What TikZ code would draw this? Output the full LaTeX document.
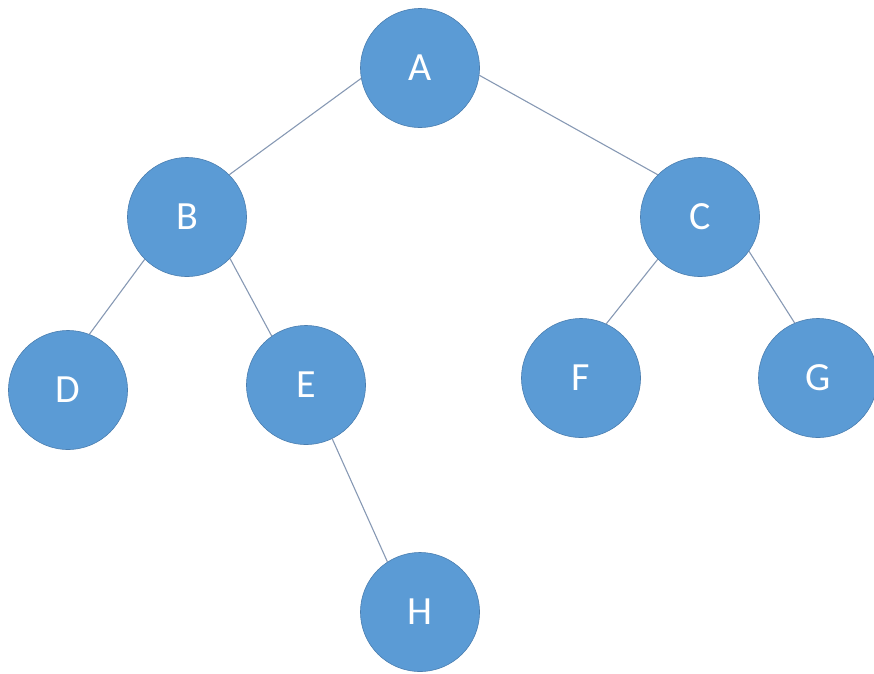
\documentclass[tikz,border=0pt]{standalone}
\usepackage{fontspec}
\setmainfont{Carlito}
\usetikzlibrary{positioning}
\definecolor{nodeblue}{HTML}{5B9BD5}
\definecolor{nodeline}{HTML}{4A7EB0}
\definecolor{edgeline}{HTML}{8799B4}
\tikzset{
	tree/.style={x=1pt,y=-1pt,semithick},
	vertex/.style={circle,draw=nodeline,fill=nodeblue,minimum size=119pt,inner sep=0pt,
		text=white,font=\fontsize{40}{48}\selectfont},
	branch/.style={draw=edgeline,line width=1.1pt}
}

\begin{document}
\begin{tikzpicture}[tree]
	\useasboundingbox (0,0) rectangle (874,673);
	
	\node[vertex] (a) at (420,68) {A};
	\node[vertex] (b) at (187,217) {B};
	\node[vertex] (c) at (700,217) {C};
	\node[vertex] (d) at (68,390) {D};
	\node[vertex] (e) at (306,385) {E};
	\node[vertex] (f) at (581,378) {F};
	\node[vertex] (g) at (818,378) {G};
	\node[vertex] (h) at (420,612) {H};
	
	\path[branch] (a.190) -- (b.45);
	\path[branch] (a.-7) -- (c.135);
	\path[branch] (b.225) -- (d.69);
	\path[branch] (b.-44) -- (e.125);
	\path[branch] (c.225) -- (f.65);
	\path[branch] (c.-35) -- (g.113);
	\path[branch] (e.-64) -- (h.123);
\end{tikzpicture}
\end{document}
